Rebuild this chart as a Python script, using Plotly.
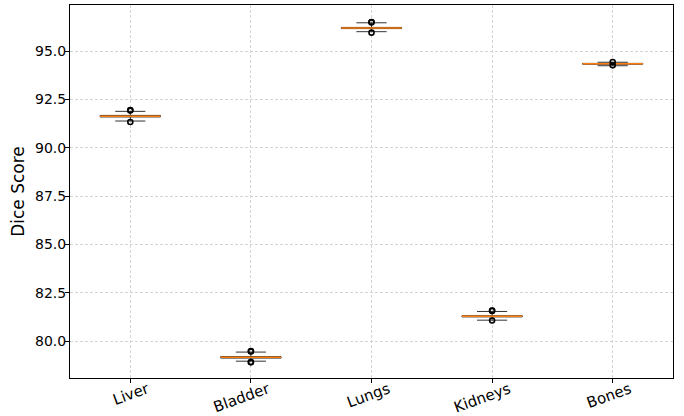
import plotly.graph_objects as go

categories = ["Liver", "Bladder", "Lungs", "Kidneys", "Bones"]
positions = [1, 2, 3, 4, 5]
q1 = [91.59, 79.12, 96.16, 81.25, 94.32]
median = [91.63, 79.16, 96.19, 81.28, 94.34]
q3 = [91.67, 79.20, 96.22, 81.31, 94.36]
whisker_low = [91.38, 78.96, 96.00, 81.08, 94.24]
whisker_high = [91.88, 79.43, 96.46, 81.53, 94.42]
outliers = [
    [91.92, 91.95, 91.33],
    [79.46, 79.49, 78.92, 78.90],
    [96.48, 96.50, 95.95],
    [81.56, 81.58, 81.06],
    [94.43, 94.26],
]
y_ticks = [80.0, 82.5, 85.0, 87.5, 90.0, 92.5, 95.0]

box_width = 0.5
fig = go.Figure()
for i, p in enumerate(positions):
    fig.add_trace(go.Box(
        x=[p], q1=[q1[i]], median=[median[i]], q3=[q3[i]],
        lowerfence=[whisker_low[i]], upperfence=[whisker_high[i]],
        width=box_width, whiskerwidth=0.5, boxpoints=False,
        line=dict(color="#333333", width=1), fillcolor="rgba(0,0,0,0)",
        showlegend=False, hoverinfo="skip",
    ))
    fig.add_trace(go.Scatter(
        x=[p - box_width / 2, p + box_width / 2], y=[median[i], median[i]],
        mode="lines", line=dict(color="#ff7f0e", width=1.6),
        showlegend=False, hoverinfo="skip",
    ))
    fig.add_trace(go.Scatter(
        x=[p] * len(outliers[i]), y=outliers[i], mode="markers",
        marker=dict(symbol="circle-open", size=5, color="black", line=dict(width=1.6)),
        showlegend=False, hoverinfo="skip",
    ))

font = "DejaVu Sans, Liberation Sans, sans-serif"
fig.update_layout(
    width=684, height=416,
    margin=dict(l=70, r=11, t=5, b=38),
    paper_bgcolor="white", plot_bgcolor="white",
    font=dict(family=font, size=14, color="black"),
    showlegend=False,
)
grid = dict(showgrid=True, gridcolor="#d4d4d4", griddash="3px,2px", gridwidth=0.7)
fig.update_xaxes(
    range=[0.5, 5.5], tickvals=positions, ticktext=categories, tickangle=-20,
    showline=True, linecolor="black", linewidth=1, mirror=True,
    ticks="outside", ticklen=4, tickcolor="black",
    ticklabelshift=17, ticklabelstandoff=-8,
    zeroline=False, tickfont=dict(size=15), automargin=False, **grid,
)
fig.update_yaxes(
    range=[78.09, 97.38], tickvals=y_ticks, ticktext=[f"{v:.1f}" for v in y_ticks],
    showline=True, linecolor="black", linewidth=1, mirror=True,
    ticks="outside", ticklen=4, tickcolor="black",
    ticklabelstandoff=-4,
    zeroline=False, tickfont=dict(size=14), automargin=False,
    title=dict(text="Dice Score", font=dict(size=17), standoff=6),
    **grid,
)
fig.write_html(
    "out.html",
    config={"displayModeBar": False},
    post_script="document.body.style.margin='0px';document.body.style.overflow='hidden';",
)
